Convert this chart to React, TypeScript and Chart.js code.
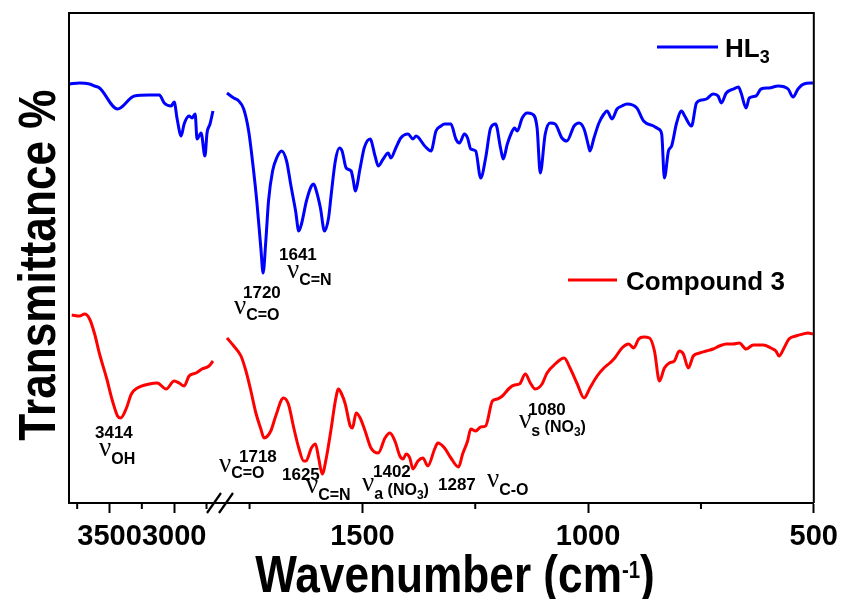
import React, { useEffect, useRef } from "react";
import { Chart, registerables } from "chart.js";

Chart.register(...registerables);

// ---------- data (wavenumber in cm-1, transmittance in arbitrary %) ----------
const hl3HighWn = [3808, 3731, 3654, 3615, 3577, 3438, 3308, 3192, 3115, 3077, 3023, 3000, 2977, 2946, 2923, 2885, 2862, 2838, 2823, 2792, 2762, 2746, 2723, 2700];
const hl3HighT = [83.8, 84, 83.8, 83.4, 83, 78.8, 81.4, 81.6, 81.6, 80, 79.4, 80.2, 76.8, 73.4, 75.8, 77.4, 77, 77.8, 72.8, 74, 69.4, 74, 75.8, 78.4];

const hl3LowWn = [1800, 1785, 1774, 1763, 1752, 1741, 1734, 1725, 1720, 1714, 1708, 1699, 1690, 1679, 1668, 1659, 1648, 1641, 1635, 1624, 1613, 1608, 1602, 1593, 1584, 1575, 1569, 1560, 1551, 1545, 1536, 1525, 1520, 1516, 1505, 1496, 1483, 1472, 1465, 1454, 1443, 1437, 1426, 1415, 1399, 1388, 1381, 1362, 1348, 1337, 1326, 1318, 1304, 1293, 1285, 1274, 1267, 1260, 1249, 1238, 1227, 1216, 1205, 1194, 1188, 1179, 1170, 1163, 1157, 1146, 1135, 1124, 1113, 1106, 1095, 1084, 1073, 1058, 1047, 1031, 1020, 1009, 998, 996, 987, 976, 965, 958, 947, 936, 925, 914, 892, 877, 855, 844, 837, 831, 822, 815, 804, 793, 786, 771, 760, 749, 738, 723, 712, 705, 694, 678, 667, 661, 650, 643, 628, 617, 599, 579, 557, 546, 535, 522, 502];
const hl3LowT = [82, 81, 80.4, 78.8, 74.4, 66.4, 60.4, 51, 46, 52.4, 60.4, 66.4, 69, 70.4, 68.4, 63.8, 58.4, 54.4, 55.8, 60.4, 63.4, 63.8, 62.4, 59, 54.4, 57, 61.8, 68.4, 71, 70.4, 67, 66.4, 64.4, 62.4, 67, 71, 72.8, 69.4, 67.4, 68.8, 70, 69, 71, 73, 73.8, 72.8, 73.4, 71.4, 70.4, 74.4, 75.4, 75.8, 75.8, 72.8, 72, 73.8, 73, 70.8, 70.4, 65, 69, 75, 75.8, 71, 68.8, 71.8, 74, 75, 74.4, 77, 78, 77.8, 75, 66, 73.8, 76, 75.8, 73, 72.4, 75.4, 76, 74.8, 71, 70.4, 73, 76, 77.8, 78.4, 76.8, 78.8, 79.4, 79.8, 79, 76.4, 75.4, 74.8, 73.8, 65, 70.4, 71.4, 76, 78.4, 77.4, 75.4, 80, 80.6, 80.8, 81.8, 81.4, 80, 82, 82.8, 83.2, 82, 79, 81, 81.4, 82.8, 83, 83.4, 82.8, 81.2, 82.8, 83.8, 84];

const c3HighWn = [3792, 3731, 3692, 3654, 3615, 3577, 3523, 3477, 3438, 3414, 3369, 3331, 3285, 3192, 3131, 3062, 3000, 2962, 2923, 2885, 2831, 2785, 2731, 2700];
const c3HighT = [37.6, 37.4, 37.8, 36.8, 33.8, 29.8, 25, 20.4, 17.4, 17, 19, 21.8, 23, 23.8, 24, 22.8, 24.4, 24, 23.4, 25.4, 26, 26.8, 27.4, 28.4];

const c3LowWn = [1800, 1785, 1769, 1758, 1747, 1736, 1725, 1718, 1703, 1692, 1675, 1664, 1652, 1641, 1630, 1625, 1613, 1604, 1597, 1589, 1580, 1569, 1560, 1553, 1547, 1538, 1527, 1522, 1514, 1505, 1494, 1481, 1465, 1450, 1439, 1428, 1417, 1410, 1403, 1395, 1388, 1377, 1366, 1355, 1340, 1333, 1318, 1304, 1287, 1278, 1267, 1260, 1249, 1238, 1227, 1212, 1201, 1190, 1174, 1163, 1152, 1139, 1128, 1117, 1102, 1091, 1073, 1053, 1040, 1024, 1009, 996, 980, 965, 952, 941, 925, 910, 899, 888, 877, 864, 853, 842, 831, 820, 809, 798, 789, 778, 767, 753, 738, 723, 709, 694, 679, 665, 650, 634, 612, 595, 584, 577, 566, 555, 540, 524, 513, 502];
const c3LowT = [33, 31.4, 29.4, 26.4, 22.4, 18, 14.8, 13, 14.4, 17.4, 21, 19.8, 15, 11, 8.4, 8.4, 11, 11.8, 9, 5.8, 9, 15, 20.4, 22.8, 22, 19.8, 15.4, 15, 18, 17, 14.4, 11, 10, 13, 14, 12.4, 9.4, 8.8, 9.8, 9, 6.8, 8.4, 9, 7.4, 10.8, 12, 11, 9, 7.2, 9.8, 12.4, 14.8, 14.4, 15.2, 15.4, 20.4, 20.8, 21.4, 23, 23.6, 23.8, 25.8, 24, 22.8, 23.8, 26, 27.8, 29, 27, 23.8, 21, 23, 25.4, 27, 28, 29, 31, 31.8, 31, 32.8, 33.2, 33, 30.4, 24.4, 27, 28, 28.4, 30.4, 29.8, 27, 29.4, 30, 30.4, 30.8, 31.4, 31.8, 31.8, 32, 30.8, 31.6, 31.6, 31, 30.4, 29.4, 31, 32.8, 33.4, 33.8, 34, 33.8];

const seriesNames = ["HL", "Compound 3"];
const majorTickWn = [3500, 3000, 1500, 1000, 500];
const majorTickLabels = ["3500", "3000", "1500", "1000", "500"];
const minorTickWn = [3750, 3250, 2750, 1750, 1250, 750];
const xTitle = "Wavenumber (cm";
const yTitle = "Transmittance %";

// ---------- broken-axis mapping ----------
const BREAK_LOW = 1800; // right segment: 1800..500 shown 1:1
const HIGH_REF = 3000;
const HIGH_REF_U = 1917;
const HIGH_SCALE = 0.2865; // compression of 3800..2700 segment
const U_MAX = 2150;
const toU = (w: number) => (w <= BREAK_LOW + 50 ? w : HIGH_REF_U + (w - HIGH_REF) * HIGH_SCALE);

const SANS = "'Liberation Sans', Arial, sans-serif";
const SERIF = "'Liberation Serif', 'DejaVu Serif', serif";

function buildSeries(hw: number[], ht: number[], lw: number[], lt: number[]) {
  const pts: { x: number; y: number | null }[] = [];
  hw.forEach((w, i) => pts.push({ x: toU(w), y: ht[i] }));
  pts.push({ x: (toU(hw[hw.length - 1]) + toU(lw[0])) / 2, y: null });
  lw.forEach((w, i) => pts.push({ x: toU(w), y: lt[i] }));
  return pts;
}

type Run = { t: string; size: number; dy?: number; serif?: boolean; normal?: boolean };
function drawRuns(ctx: CanvasRenderingContext2D, x: number, y: number, runs: Run[], sx = 1) {
  let cx = x;
  for (const r of runs) {
    ctx.font = `${r.normal ? "" : "bold "}${r.size}px ${r.serif ? SERIF : SANS}`;
    ctx.save();
    ctx.translate(cx, y + (r.dy || 0));
    ctx.scale(sx, 1);
    ctx.fillText(r.t, 0, 0);
    ctx.restore();
    cx += ctx.measureText(r.t).width * sx;
  }
  return cx - x;
}
function runsWidth(ctx: CanvasRenderingContext2D, runs: Run[], sx = 1) {
  let w = 0;
  for (const r of runs) {
    ctx.font = `${r.normal ? "" : "bold "}${r.size}px ${r.serif ? SERIF : SANS}`;
    w += ctx.measureText(r.t).width * sx;
  }
  return w;
}

const NU = (sub: Run[]): Run[] => [{ t: "ν", size: 27, serif: true, normal: true }, ...sub];

const annotations: { x: number; y: number; runs: Run[] }[] = [
  { x: 279, y: 260, runs: [{ t: "1641", size: 17 }] },
  { x: 287, y: 278, runs: NU([{ t: "C=N", size: 16, dy: 7 }]) },
  { x: 243, y: 298, runs: [{ t: "1720", size: 17 }] },
  { x: 234, y: 314, runs: NU([{ t: "C=O", size: 16, dy: 6 }]) },
  { x: 95, y: 438, runs: [{ t: "3414", size: 17 }] },
  { x: 99, y: 456, runs: NU([{ t: "OH", size: 16, dy: 8 }]) },
  { x: 239, y: 462, runs: [{ t: "1718", size: 17 }] },
  { x: 219, y: 472, runs: NU([{ t: "C=O", size: 16, dy: 6 }]) },
  { x: 282, y: 480, runs: [{ t: "1625", size: 17 }] },
  { x: 306, y: 493, runs: NU([{ t: "C=N", size: 16, dy: 7 }]) },
  { x: 373, y: 477, runs: [{ t: "1402", size: 17 }] },
  {
    x: 362, y: 491, runs: NU([
      { t: "a", size: 16, dy: 8 },
      { t: " (NO", size: 16, dy: 4 },
      { t: "3", size: 12, dy: 8 },
      { t: ")", size: 16, dy: 4 },
    ]),
  },
  { x: 438, y: 490, runs: [{ t: "1287", size: 17 }] },
  { x: 487, y: 487, runs: NU([{ t: "C-O", size: 16, dy: 8 }]) },
  { x: 528, y: 415, runs: [{ t: "1080", size: 17 }] },
  {
    x: 519, y: 428, runs: NU([
      { t: "s", size: 16, dy: 8 },
      { t: " (NO", size: 16, dy: 4 },
      { t: "3", size: 12, dy: 8 },
      { t: ")", size: 16, dy: 4 },
    ]),
  },
];

const TITLE_SX = 0.85;

const overlayPlugin = {
  id: "overlay",
  afterDraw(chart: any) {
    const { ctx, chartArea } = chart;
    const xs = chart.scales.x;
    const { left, right, top, bottom } = chartArea;
    ctx.save();
    ctx.strokeStyle = "#000";
    ctx.fillStyle = "#000";
    ctx.textBaseline = "alphabetic";
    ctx.textAlign = "left";
    // frame
    ctx.lineWidth = 2;
    ctx.beginPath();
    ctx.moveTo(left, bottom);
    ctx.lineTo(left, top);
    ctx.lineTo(right, top);
    ctx.lineTo(right, bottom);
    ctx.stroke();
    // minor ticks
    minorTickWn.forEach((w) => {
      const px = xs.getPixelForValue(toU(w));
      ctx.beginPath();
      ctx.moveTo(px, bottom);
      ctx.lineTo(px, bottom + 6);
      ctx.stroke();
    });
    // axis break marks
    const bx = (xs.getPixelForValue(toU(2700)) + xs.getPixelForValue(toU(1800))) / 2;
    ctx.lineWidth = 2.2;
    [-6, 6].forEach((o) => {
      ctx.beginPath();
      ctx.moveTo(bx + o - 7, bottom + 10);
      ctx.lineTo(bx + o + 7, bottom - 10);
      ctx.stroke();
    });
    // legend
    const ds = chart.data.datasets;
    ctx.lineWidth = 3;
    ctx.strokeStyle = ds[0].borderColor;
    ctx.beginPath();
    ctx.moveTo(657, 47);
    ctx.lineTo(718, 47);
    ctx.stroke();
    drawRuns(ctx, 725, 57, [{ t: seriesNames[0], size: 26 }, { t: "3", size: 18, dy: 6 }]);
    ctx.strokeStyle = ds[1].borderColor;
    ctx.beginPath();
    ctx.moveTo(568, 280);
    ctx.lineTo(617, 280);
    ctx.stroke();
    drawRuns(ctx, 626, 290, [{ t: seriesNames[1], size: 26 }]);
    // peak annotations
    annotations.forEach((a) => drawRuns(ctx, a.x, a.y, a.runs));
    // x title with superscript
    const xRuns: Run[] = [
      { t: xTitle, size: 52 },
      { t: "-1", size: 24, dy: -14 },
      { t: ")", size: 52 },
    ];
    const tw = runsWidth(ctx, xRuns, TITLE_SX);
    drawRuns(ctx, 455 - tw / 2, 592, xRuns, TITLE_SX);
    // y title (rotated)
    ctx.save();
    ctx.translate(55, (top + bottom) / 2 + 7);
    ctx.rotate(-Math.PI / 2);
    ctx.scale(TITLE_SX, 1);
    ctx.font = `bold 52px ${SANS}`;
    ctx.textAlign = "center";
    ctx.fillText(yTitle, 0, 0);
    ctx.restore();
    ctx.restore();
  },
};

export default function App() {
  const ref = useRef<HTMLCanvasElement | null>(null);
  useEffect(() => {
    if (!ref.current) return;
    const chart = new Chart(ref.current, {
      type: "line",
      data: {
        datasets: [
          {
            label: seriesNames[0] + "3",
            data: buildSeries(hl3HighWn, hl3HighT, hl3LowWn, hl3LowT),
            borderColor: "#0000FF",
            borderWidth: 3,
            pointRadius: 0,
            cubicInterpolationMode: "monotone",
            spanGaps: false,
          },
          {
            label: seriesNames[1],
            data: buildSeries(c3HighWn, c3HighT, c3LowWn, c3LowT),
            borderColor: "#FF0000",
            borderWidth: 3,
            pointRadius: 0,
            cubicInterpolationMode: "monotone",
            spanGaps: false,
          },
        ],
      },
      options: {
        responsive: false,
        animation: false,
        events: [],
        layout: { padding: { top: 13, right: 26, left: 69, bottom: 0 } },
        plugins: { legend: { display: false }, tooltip: { enabled: false } },
        scales: {
          x: {
            type: "linear",
            reverse: true,
            min: 500,
            max: U_MAX,
            afterBuildTicks: (s: any) => {
              s.ticks = majorTickWn.map((w) => ({ value: toU(w) }));
            },
            afterFit: (s: any) => {
              s.height = 96;
            },
            grid: { drawOnChartArea: false, drawTicks: true, tickLength: 10, tickWidth: 2, tickColor: "#000" },
            border: { display: true, color: "#000", width: 2 },
            ticks: {
              autoSkip: false,
              maxRotation: 0,
              padding: 7,
              color: "#000",
              font: { family: SANS, size: 29, weight: "bold" },
              callback: (_v: any, i: number) => majorTickLabels[i],
            },
          },
          y: {
            display: false,
            min: 0,
            max: 98,
          },
        },
      },
      plugins: [overlayPlugin],
    } as any);
    return () => chart.destroy();
  }, []);
  return (
    <div style={{ position: "fixed", left: 0, top: 0, width: 845, height: 599, background: "#fff" }}>
      <canvas ref={ref} width={845} height={599} style={{ display: "block" }} />
    </div>
  );
}
